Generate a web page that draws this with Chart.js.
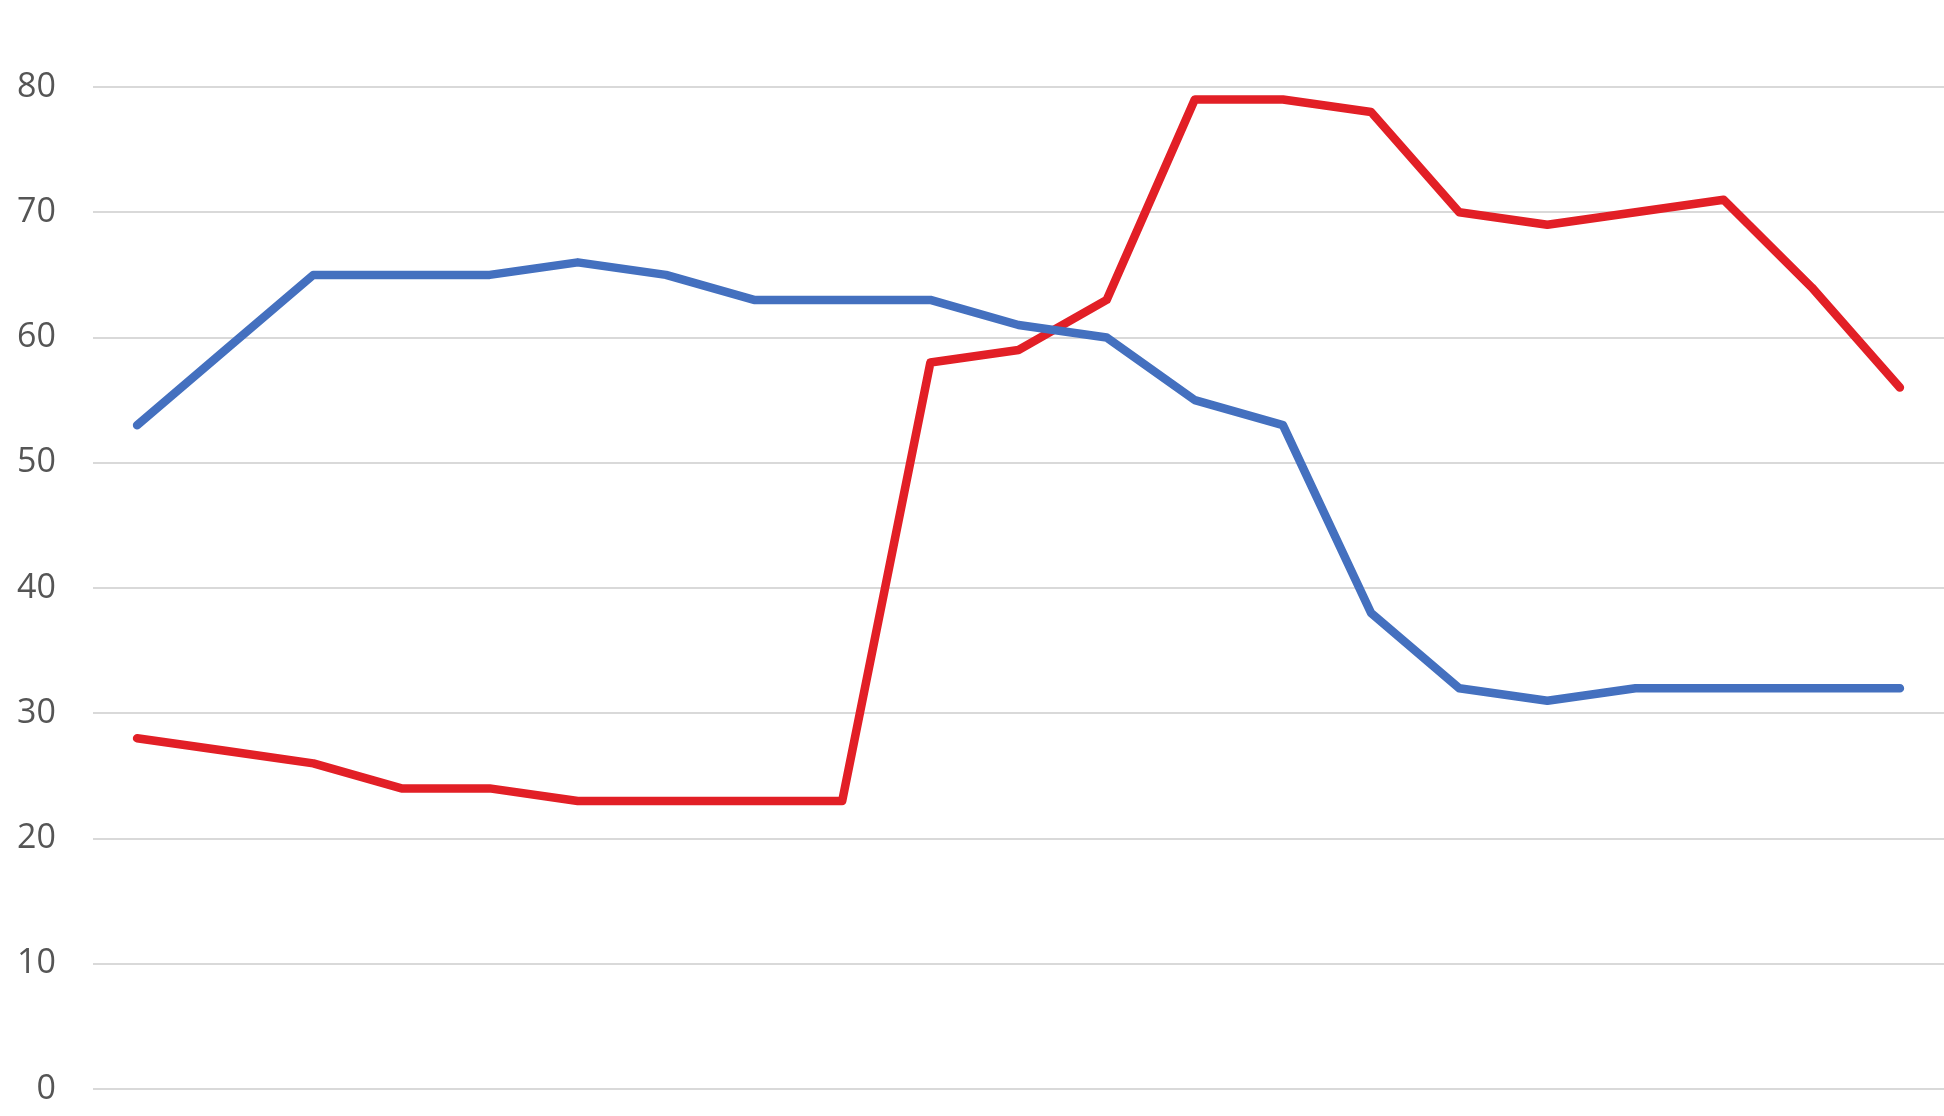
<!DOCTYPE html>
<html>
<head>
<meta charset="utf-8">
<script src="https://cdn.jsdelivr.net/npm/chart.js@4/dist/chart.umd.min.js"></script>
<style>
html,body{margin:0;padding:0;background:#fff;overflow:hidden;}
#wrap{width:1944px;height:1116px;}
canvas{display:block;}
</style>
</head>
<body>
<div id="wrap"><canvas id="c" width="1944" height="1116"></canvas></div>
<script>
const categories = ["1","2","3","4","5","6","7","8","9","10","11","12","13","14","15","16","17","18","19","20","21"];
const blueValues = [53,59,65,65,65,66,65,63,63,63,61,60,55,53,38,32,31,32,32,32,32];
const redValues  = [28,27,26,24,24,23,23,23,23,58,59,63,79,79,78,70,69,70,71,64,56];
const yTicks = [0,10,20,30,40,50,60,70,80];

new Chart(document.getElementById('c'), {
  type: 'line',
  data: {
    labels: categories,
    datasets: [
      {label:'Blue', data: blueValues, borderColor:'#4470bf', borderWidth:8.5, pointRadius:0, tension:0, fill:false, borderJoinStyle:'round', borderCapStyle:'round'},
      {label:'Red', data: redValues, borderColor:'#e21f26', borderWidth:8.5, pointRadius:0, tension:0, fill:false, borderJoinStyle:'round', borderCapStyle:'round'}
    ]
  },
  options: {
    responsive:false,
    animation:false,
    devicePixelRatio:1,
    layout:{padding:{top:87,bottom:27,left:0,right:0}},
    plugins:{legend:{display:false},tooltip:{enabled:false}},
    scales:{
      x:{display:false, offset:true},
      y:{
        min:0,max:80,
        afterFit:(s)=>{s.width=93; s.paddingTop=0; s.paddingBottom=0;},
        afterBuildTicks:(s)=>{s.ticks = yTicks.map(v=>({value:v}));},
        border:{display:false},
        grid:{color:'#d9d9d9', lineWidth:2, drawTicks:false},
        ticks:{padding:37, color:'#555555', font:{family:'"Open Sans", sans-serif', size:34}}
      }
    }
  }
});
</script>
</body>
</html>
